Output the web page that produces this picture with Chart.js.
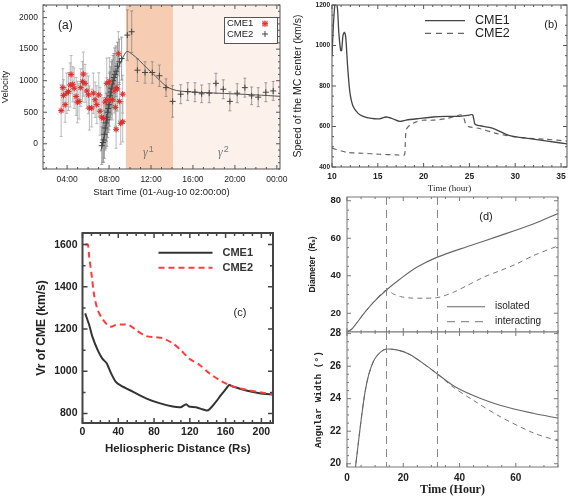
<!DOCTYPE html>
<html>
<head>
<meta charset="utf-8">
<script src="https://cdn.jsdelivr.net/npm/chart.js@4.4.1/dist/chart.umd.min.js"></script>
<style>
  html, body { margin: 0; padding: 0; background: #fff; }
  #wrap { position: relative; width: 568px; height: 497px; overflow: hidden; }
  canvas { position: absolute; }
</style>
</head>
<body>
<div id="wrap">
  <canvas id="chartA" width="290" height="200" style="left:0;top:0"></canvas>
  <canvas id="chartB" width="288" height="200" style="left:280px;top:0"></canvas>
  <canvas id="chartC" width="260" height="250" style="left:30px;top:210px"></canvas>
  <canvas id="chartD1" width="268" height="142" style="left:300px;top:190px"></canvas>
  <canvas id="chartD2" width="268" height="175" style="left:300px;top:322px"></canvas>
</div>
<script>
// ---------- (a) velocity vs start time ----------
const cme1Hour = [3.43,3.59,3.65,3.81,3.97,4.13,4.29,4.38,4.54,4.67,4.86,4.98,5.14,5.30,5.46,5.55,5.71,5.88,6.03,6.12,6.35,6.50,6.67,6.83,7.02,7.14,7.30,7.46,7.62,7.78,7.78,8.03,8.16,8.31,8.48,8.60,8.67,8.67,8.79,8.89,8.98,9.11,9.30,9.30];
const cme1Vel = [526,890,766,620,802,828,932,1099,943,880,750,661,672,890,984,1104,958,838,776,567,567,802,698,620,776,516,422,401,661,698,958,984,693,698,838,578,890,229,870,1427,672,323,349,786];
const cme1Err = [410,300,250,280,320,300,350,300,280,320,300,330,280,300,320,350,300,280,300,350,300,320,280,300,350,380,350,330,300,350,400,380,300,320,350,300,380,300,350,350,300,330,320,300];

const cme2Hour = [7.30,7.40,7.48,7.55,7.62,7.70,7.75,7.80,7.86,7.92,7.98,8.04,8.10,8.16,8.22,8.30,8.38,8.46,8.55,8.66,8.80,8.98,9.20,9.74,10.16,10.70,11.43,12.12,12.80,13.43,14.06,14.83,15.50,16.19,16.83,17.55,18.19,18.89,19.52,20.22,20.95,21.59,22.22,22.95,23.65];
const cme2Vel = [-30,20,60,150,250,330,420,380,500,560,620,700,760,820,880,950,1000,1050,1100,1150,1230,1300,1350,1723,1776,1167,1130,1130,1078,890,672,786,828,817,792,802,958,864,672,802,890,760,739,817,838];
const cme2Err = [300,320,350,380,350,400,380,420,400,380,400,420,380,400,420,380,400,380,420,400,380,360,340,400,330,180,170,170,170,140,250,150,140,150,140,150,160,150,150,150,150,140,150,150,150];

const fitHour = [7.2,7.5,7.8,8.1,8.4,8.7,9.0,9.3,9.7,10.2,10.9,11.6,12.2,12.8,13.5,14.1,14.8,16,18,20,22,24.3];
const fitVel = [-120,60,360,700,950,1120,1250,1360,1464,1420,1320,1200,1110,1010,906,860,835,820,805,790,775,752];

const gammaSpans = [[9.6, 14.1], [14.1, 24.3]];
const hourTicks = [4, 8, 12, 16, 20, 24];
const velTicks = [0, 500, 1000, 1500, 2000];

// ---------- (b) speed of MC center ----------
const bTime1 = [10.0,10.15,10.3,10.45,10.6,10.75,10.95,11.05,11.2,11.35,11.5,11.7,11.95,12.3,12.85,13.4,14.3,15.2,15.9,16.65,17.4,18.1,19.6,21,22.5,23.9,24.8,25.35,25.6,26.1,27.5,29.4,31.6,33.5,35.7];
const bSpeed1 = [950,1100,1195,1210,1180,1060,975,975,1050,1065,1040,900,770,700,665,650,640,638,647,638,625,632,640,647,650,650,655,658,612,604,592,555,540,528,514];
const bTime2 = [10,11.56,13.4,15.2,17,17.9,18.0,18.1,18.5,19.2,19.9,21,22.5,23.6,24.0,24.3,24.65,25,26.1,27.9,29.75,31.6,33.4,35.7];
const bSpeed2 = [493,473,468,463,460,460,520,585,607,623,631,631,639,652,658,652,607,598,590,566,550,541,537,528];
const bTimeTicks = [10, 15, 20, 25, 30, 35];
const bSpeedTicks = [400, 600, 800, 1000, 1200];

// ---------- (c) Vr vs heliospheric distance ----------
const cDist1 = [3,7.5,11,17,22,27,32,37,43,56,71,86,101,110,116,119,127,134,139,142,148,155,161,164,168,183,198,213];
const cVr1 = [1274,1219,1164,1100,1061,1038,990,951,932,904,872,849,833,830,844,833,830,820,814,820,849,888,920,935,928,909,896,890];
const cDist2 = [3,6,7.5,10.5,13,17,22,28,32,37,45,52,60,71,82,90,101,110,119,131,142,153,164,175,190,205,213];
const cVr2 = [1600,1600,1542,1447,1361,1290,1250,1219,1211,1219,1222,1219,1195,1167,1161,1156,1132,1100,1061,1030,990,959,935,920,907,896,891];
const cDistTicks = [0, 40, 80, 120, 160, 200];
const cVrTicks = [800, 1000, 1200, 1400, 1600];

// ---------- (d) diameter and angular width ----------
const dTime = [0.2,1.8,5.9,9.4,14,18.9,24.8,31.9,42.6,54.4,66.2,75.1];
const dIsolated = [10.2,11.7,19.7,25.8,32.4,38.3,44.5,49.8,55.5,61.4,67.6,73.2];
const dTimeInt = [0.2,1.8,5.9,9.4,14,16.5,19,22,27,31.9,34.5,38,42.6,48.5,54.4,60.3,66.2,75.1];
const dInteracting = [10.2,11.7,19.7,25.8,32.4,30.3,28.9,28.2,28.0,28.3,29.3,31.3,34.7,39.2,42.7,46.3,50.7,56.0];

const wTime = [2.8,6.5,9.4,13,17.7,22.5,28.4,31.9,37.8,44.9,54.4,66.2,75.1];
const wIsolated = [19.5,24.5,26.3,27.0,27.0,26.7,26.0,25.55,24.8,24.2,23.6,23.1,22.8];
const wTimeInt = [2.8,6.5,9.4,13,17.7,22.5,28.4,31.9,35,37.8,44.9,54.4,66.2,75.1];
const wInteracting = [19.5,24.5,26.3,27.0,27.0,26.7,26.0,25.55,25.1,24.7,23.9,22.9,21.9,21.4];

const phaseMarks = [14, 32];
const dTimeTicks = [0, 20, 40, 60];
const diamTicks = [20, 40, 60, 80];
const widthTicks = [20, 22, 24, 26, 28];

// ---------- helpers ----------
Chart.defaults.font.family = "'Liberation Sans', Arial, 'DejaVu Sans', sans-serif";
Chart.defaults.animation = false;
Chart.defaults.plugins.legend.display = false;
Chart.defaults.plugins.tooltip.enabled = false;

const pts = (xs, ys) => xs.map((x, i) => ({ x, y: ys[i] }));

function axis(o) {
  return {
    type: 'linear', min: o.min, max: o.max,
    border: { display: false },
    grid: { display: false, drawTicks: false },
    ticks: {
      display: !o.hideTicks, autoSkip: false, maxRotation: 0,
      padding: o.pad || 0, color: o.color || '#222', font: o.font,
      callback: o.fmt || (v => v)
    },
    title: { display: !!o.title, text: o.title, color: o.color || '#222', font: o.titleFont, padding: o.titlePad || 0 },
    afterBuildTicks: s => { s.ticks = o.ticks.map(v => ({ value: v })); },
    afterFit: s => {
      if (o.horizontal) s.height = o.size; else s.width = o.size;
      // keep label overhang from squeezing the plot box
      s.paddingTop = 0; s.paddingBottom = 0; s.paddingLeft = 0; s.paddingRight = 0;
    }
  };
}

// box round the plot with inward ticks on every side
function makeFrame(f) {
  return {
    id: 'frame',
    afterDatasetsDraw(chart) {
      const { ctx, chartArea: a } = chart;
      const marks = (scale, sub) => {
        const vals = scale.ticks.map(t => t.value);
        const out = [];
        if (vals.length < 2) return out;
        const step = (vals[1] - vals[0]) / sub;
        for (let k = -sub; k <= vals.length * sub; k++) {
          const v = vals[0] + k * step;
          if (v < scale.min - 1e-9 || v > scale.max + 1e-9) continue;
          out.push({ p: scale.getPixelForValue(v), major: k % sub === 0 });
        }
        return out;
      };
      ctx.save();
      ctx.strokeStyle = f.color;
      ctx.lineWidth = f.width;
      ctx.strokeRect(a.left, a.top, a.right - a.left, a.bottom - a.top);
      ctx.lineWidth = f.tickWidth || 1;
      ctx.beginPath();
      marks(chart.scales.x, f.subX).forEach(m => {
        const len = m.major ? f.major : f.minor;
        ctx.moveTo(m.p, a.bottom); ctx.lineTo(m.p, a.bottom - len);
        ctx.moveTo(m.p, a.top); ctx.lineTo(m.p, a.top + len);
      });
      marks(chart.scales.y, f.subY).forEach(m => {
        const len = m.major ? f.major : f.minor;
        ctx.moveTo(a.left, m.p); ctx.lineTo(a.left + len, m.p);
        ctx.moveTo(a.right, m.p); ctx.lineTo(a.right - len, m.p);
      });
      ctx.stroke();
      ctx.restore();
    }
  };
}

function makeShade(spans, colors) {
  return {
    id: 'shade',
    beforeDatasetsDraw(chart) {
      const { ctx, chartArea: a, scales: { x } } = chart;
      ctx.save();
      spans.forEach((s, i) => {
        const x1 = Math.max(a.left, x.getPixelForValue(s[0]));
        const x2 = Math.min(a.right, x.getPixelForValue(s[1]));
        ctx.fillStyle = colors[i];
        ctx.fillRect(x1, a.top, x2 - x1, a.bottom - a.top);
      });
      ctx.restore();
    }
  };
}

function makeErrBars(sets) {
  return {
    id: 'errbars',
    beforeDatasetsDraw(chart) {
      const { ctx, chartArea: a, scales: { y } } = chart;
      ctx.save();
      ctx.beginPath();
      ctx.rect(a.left, a.top, a.right - a.left, a.bottom - a.top);
      ctx.clip();
      sets.forEach(s => {
        const meta = chart.getDatasetMeta(s.ds);
        const data = chart.data.datasets[s.ds].data;
        ctx.strokeStyle = s.color;
        ctx.lineWidth = 0.8;
        ctx.beginPath();
        meta.data.forEach((el, i) => {
          const yt = y.getPixelForValue(data[i].y + s.err[i]);
          const yb = y.getPixelForValue(data[i].y - s.err[i]);
          ctx.moveTo(el.x, yt); ctx.lineTo(el.x, yb);
          ctx.moveTo(el.x - 1.5, yt); ctx.lineTo(el.x + 1.5, yt);
          ctx.moveTo(el.x - 1.5, yb); ctx.lineTo(el.x + 1.5, yb);
        });
        ctx.stroke();
      });
      ctx.restore();
    }
  };
}

function makeVLines(values, color) {
  return {
    id: 'vlines',
    afterDatasetsDraw(chart) {
      const { ctx, chartArea: a, scales: { x } } = chart;
      ctx.save();
      ctx.strokeStyle = color;
      ctx.lineWidth = 1;
      ctx.setLineDash([8, 5]);
      values.forEach(v => {
        const px = Math.round(x.getPixelForValue(v)) + 0.5;
        ctx.beginPath(); ctx.moveTo(px, a.top); ctx.lineTo(px, a.bottom); ctx.stroke();
      });
      ctx.restore();
    }
  };
}

function drawMarker(ctx, kind, x, y) {
  ctx.save();
  ctx.setLineDash([]);
  if (kind === 'cme1') {
    ctx.fillStyle = 'rgba(242,150,150,0.8)';
    ctx.fillRect(x - 3, y - 3, 6, 6);
    ctx.strokeStyle = '#d92b2b';
    ctx.lineWidth = 1;
    ctx.beginPath();
    ctx.moveTo(x - 3, y); ctx.lineTo(x + 3, y);
    ctx.moveTo(x, y - 3); ctx.lineTo(x, y + 3);
    ctx.moveTo(x - 2.2, y - 2.2); ctx.lineTo(x + 2.2, y + 2.2);
    ctx.moveTo(x - 2.2, y + 2.2); ctx.lineTo(x + 2.2, y - 2.2);
    ctx.stroke();
  } else {
    ctx.strokeStyle = '#444';
    ctx.lineWidth = 1;
    ctx.beginPath();
    ctx.moveTo(x - 3, y); ctx.lineTo(x + 3, y);
    ctx.moveTo(x, y - 3); ctx.lineTo(x, y + 3);
    ctx.stroke();
  }
  ctx.restore();
}

// legend inside the plot, offsets from the plot corner
function makeKey(k) {
  return {
    id: 'key',
    afterDraw(chart) {
      const { ctx, chartArea: a } = chart;
      ctx.save();
      if (k.box) {
        ctx.strokeStyle = k.box.color;
        ctx.lineWidth = 1;
        ctx.fillStyle = '#fff';
        ctx.fillRect(a.left + k.box.x, a.top + k.box.y, k.box.w, k.box.h);
        ctx.strokeRect(a.left + k.box.x + 0.5, a.top + k.box.y + 0.5, k.box.w, k.box.h);
      }
      k.items.forEach(it => {
        const y = a.top + it.y;
        if (it.marker) {
          drawMarker(ctx, it.marker, a.left + it.mx, y);
        } else {
          const ds = chart.data.datasets[it.ds];
          ctx.beginPath();
          ctx.setLineDash(it.dash || ds.borderDash || []);
          ctx.strokeStyle = ds.borderColor;
          ctx.lineWidth = ds.borderWidth;
          ctx.moveTo(a.left + it.x1, y); ctx.lineTo(a.left + it.x2, y);
          ctx.stroke();
          ctx.setLineDash([]);
        }
        ctx.font = k.css;
        ctx.fillStyle = k.color;
        ctx.textBaseline = 'middle';
        ctx.textAlign = 'left';
        ctx.fillText(it.text, a.left + it.tx, y);
      });
      ctx.restore();
    }
  };
}

function makeNotes(items) {
  return {
    id: 'notes',
    afterDraw(chart) {
      const { ctx, chartArea: a } = chart;
      ctx.save();
      ctx.textBaseline = 'middle';
      items.forEach(n => {
        ctx.font = n.css;
        ctx.fillStyle = n.color;
        ctx.textAlign = n.align || 'left';
        ctx.fillText(n.t, a.left + n.x, a.top + n.y);
        if (n.sup) {
          const w = ctx.measureText(n.t).width;
          ctx.font = n.supCss;
          ctx.textAlign = 'left';
          ctx.fillText(n.sup, a.left + n.x + w + 1, a.top + n.y - 3);
        }
      });
      ctx.restore();
    }
  };
}

const baseOpts = { responsive: false, devicePixelRatio: 1, animation: false };

// ---------- chart (a) ----------
new Chart(document.getElementById('chartA'), {
  type: 'scatter',
  data: {
    datasets: [
      { label: 'CME1', data: pts(cme1Hour, cme1Vel), pointStyle: 'star', pointRadius: 3, borderColor: '#d92b2b', borderWidth: 1, backgroundColor: '#d92b2b' },
      { label: 'CME1 box', data: pts(cme1Hour, cme1Vel), pointStyle: 'rect', pointRadius: 3, borderWidth: 0, backgroundColor: 'rgba(242,150,150,0.8)' },
      { label: 'CME2', data: pts(cme2Hour, cme2Vel), pointStyle: 'cross', pointRadius: 3, borderColor: '#444', borderWidth: 1 },
      { label: 'fit', data: pts(fitHour, fitVel), showLine: true, pointRadius: 0, borderColor: '#555', borderWidth: 1, tension: 0.3 }
    ]
  },
  options: {
    ...baseOpts,
    layout: { padding: { top: 2, right: 10, left: 0, bottom: 0 } },
    scales: {
      x: axis({ min: 1.7, max: 24.3, ticks: hourTicks, horizontal: true, size: 31, pad: 6,
        font: { size: 8.5 }, fmt: v => String(v % 24).padStart(2, '0') + ':00',
        title: 'Start Time (01-Aug-10 02:00:00)', titleFont: { size: 9.5 }, titlePad: { top: 0, bottom: 2 } }),
      y: axis({ min: -400, max: 2200, ticks: velTicks, size: 43, pad: 5, font: { size: 8.5 },
        title: 'Velocity', titleFont: { size: 9.5 }, titlePad: { top: 0, bottom: 0 } })
    }
  },
  plugins: [
    makeShade(gammaSpans, ['#f6cdb3', '#fdf1ec']),
    makeErrBars([{ ds: 1, err: cme1Err, color: '#aaa' }, { ds: 2, err: cme2Err, color: '#888' }]),
    makeFrame({ color: '#555', width: 1, major: 4, minor: 2, subX: 4, subY: 5 }),
    makeNotes([
      { t: '(a)', x: 15, y: 21, css: '12px "Liberation Sans", Arial', color: '#222' },
      { t: 'γ', x: 100, y: 148, css: 'italic 12px "Liberation Serif", serif', color: '#777', sup: '1', supCss: '9px "Liberation Sans", Arial' },
      { t: 'γ', x: 175, y: 148, css: 'italic 12px "Liberation Serif", serif', color: '#777', sup: '2', supCss: '9px "Liberation Sans", Arial' }
    ]),
    makeKey({ css: '9.5px "Liberation Sans", Arial', color: '#222', box: { x: 181, y: 12, w: 53, h: 26, color: '#555' },
      items: [
        { text: 'CME1', y: 18.7, tx: 184, marker: 'cme1', mx: 222 },
        { text: 'CME2', y: 29, tx: 184, marker: 'cme2', mx: 222 }
      ] })
  ]
});

// ---------- chart (b) ----------
new Chart(document.getElementById('chartB'), {
  type: 'scatter',
  data: {
    datasets: [
      { label: 'CME1', data: pts(bTime1, bSpeed1), showLine: true, pointRadius: 0, borderColor: '#444', borderWidth: 1.3, tension: 0.25 },
      { label: 'CME2', data: pts(bTime2, bSpeed2), showLine: true, pointRadius: 0, borderColor: '#666', borderWidth: 1.2, borderDash: [5, 4], tension: 0.2 }
    ]
  },
  options: {
    ...baseOpts,
    layout: { padding: { top: 5, right: 1, left: 0, bottom: 0 } },
    scales: {
      x: axis({ min: 10, max: 35.65, ticks: bTimeTicks, horizontal: true, size: 33, pad: 5,
        font: { size: 8.5, weight: 'bold' }, title: 'Time (hour)',
        titleFont: { size: 9, family: "'Liberation Serif', serif" }, titlePad: { top: 0, bottom: 6 } }),
      y: axis({ min: 400, max: 1200, ticks: bSpeedTicks, size: 52, pad: 2, font: { size: 6.5, weight: 'bold' },
        title: 'Speed of the MC center (km/s)', titleFont: { size: 10.5 }, titlePad: { top: 12, bottom: 0 } })
    }
  },
  plugins: [
    makeFrame({ color: '#555', width: 1, major: 4, minor: 2, subX: 5, subY: 4 }),
    makeNotes([{ t: '(b)', x: 219, y: 20, css: '11px "Liberation Sans", Arial', color: '#222', align: 'center' }]),
    makeKey({ css: '12.5px "Liberation Sans", Arial', color: '#222',
      items: [
        { text: 'CME1', ds: 0, y: 15.7, x1: 93, x2: 133, tx: 143 },
        { text: 'CME2', ds: 1, y: 28.3, x1: 93, x2: 133, tx: 143, dash: [6, 5] }
      ] })
  ]
});

// ---------- chart (c) ----------
new Chart(document.getElementById('chartC'), {
  type: 'scatter',
  data: {
    datasets: [
      { label: 'CME2', data: pts(cDist2, cVr2), showLine: true, pointRadius: 0, borderColor: '#ff3b3b', borderWidth: 2, borderDash: [6, 4], tension: 0.3 },
      { label: 'CME1', data: pts(cDist1, cVr1), showLine: true, pointRadius: 0, borderColor: '#333', borderWidth: 2, tension: 0.2 }
    ]
  },
  options: {
    ...baseOpts,
    layout: { padding: { top: 23, right: 17, left: 0, bottom: 0 } },
    scales: {
      x: axis({ min: 0, max: 213, ticks: cDistTicks, horizontal: true, size: 37, pad: 3,
        font: { size: 10.5, weight: 'bold' }, title: 'Heliospheric Distance (Rs)',
        titleFont: { size: 11.5, weight: 'bold' }, titlePad: { top: 0, bottom: 4 } }),
      y: axis({ min: 755, max: 1655, ticks: cVrTicks, size: 52.5, pad: 5, font: { size: 10.5, weight: 'bold' },
        title: 'Vr of CME (km/s)', titleFont: { size: 12, weight: 'bold' }, titlePad: { top: 4, bottom: 0 } })
    }
  },
  plugins: [
    makeFrame({ color: '#444', width: 2, tickWidth: 1.5, major: 5, minor: 3, subX: 4, subY: 2 }),
    makeNotes([{ t: '(c)', x: 157.5, y: 80, css: '11px "Liberation Sans", Arial', color: '#222', align: 'center' }]),
    makeKey({ css: 'bold 11px "Liberation Sans", Arial', color: '#333',
      items: [
        { text: 'CME1', ds: 1, y: 19.7, x1: 76, x2: 130, tx: 140 },
        { text: 'CME2', ds: 0, y: 34.7, x1: 76, x2: 130, tx: 140 }
      ] })
  ]
});

// ---------- chart (d) upper: diameter ----------
new Chart(document.getElementById('chartD1'), {
  type: 'scatter',
  data: {
    datasets: [
      { label: 'isolated', data: pts(dTime, dIsolated), showLine: true, pointRadius: 0, borderColor: '#666', borderWidth: 1.1, tension: 0.3 },
      { label: 'interacting', data: pts(dTimeInt, dInteracting), showLine: true, pointRadius: 0, borderColor: '#777', borderWidth: 1, borderDash: [5, 4], tension: 0.3 }
    ]
  },
  options: {
    ...baseOpts,
    layout: { padding: { top: 7, right: 10, left: 0, bottom: 0 } },
    scales: {
      x: axis({ min: 0, max: 75, ticks: dTimeTicks, horizontal: true, size: 0, hideTicks: true }),
      y: axis({ min: 10, max: 82, ticks: diamTicks, size: 47, pad: 6, font: { size: 9.5, weight: 'bold' },
        title: 'Diameter  (R\u209B)', titleFont: { size: 8.5, weight: 'bold' }, titlePad: { top: 8, bottom: 0 } })
    }
  },
  plugins: [
    makeVLines(phaseMarks, '#888'),
    makeFrame({ color: '#777', width: 1, major: 4, minor: 2, subX: 4, subY: 4 }),
    makeNotes([{ t: '(d)', x: 139, y: 20, css: '11px "Liberation Sans", Arial', color: '#222', align: 'center' }]),
    makeKey({ css: '10px "Liberation Sans", Arial', color: '#222',
      items: [
        { text: 'isolated', ds: 0, y: 109.7, x1: 100, x2: 138, tx: 148 },
        { text: 'interacting', ds: 1, y: 124.7, x1: 100, x2: 138, tx: 148, dash: [8, 6] }
      ] })
  ]
});

// ---------- chart (d) lower: angular width ----------
new Chart(document.getElementById('chartD2'), {
  type: 'scatter',
  data: {
    datasets: [
      { label: 'isolated', data: pts(wTime, wIsolated), showLine: true, pointRadius: 0, borderColor: '#666', borderWidth: 1.1, tension: 0.3 },
      { label: 'interacting', data: pts(wTimeInt, wInteracting), showLine: true, pointRadius: 0, borderColor: '#777', borderWidth: 1, borderDash: [5, 4], tension: 0.3 }
    ]
  },
  options: {
    ...baseOpts,
    layout: { padding: { top: 10, right: 10, left: 0, bottom: 0 } },
    scales: {
      x: axis({ min: 0, max: 75, ticks: dTimeTicks, horizontal: true, size: 30, pad: 5,
        font: { size: 10, weight: 'bold' }, title: 'Time (Hour)',
        titleFont: { size: 12, weight: 'bold', family: "'Liberation Serif', serif" }, titlePad: { top: 0, bottom: 0 } }),
      y: axis({ min: 19.8, max: 28.1, ticks: widthTicks, size: 47, pad: 6, font: { size: 10, weight: 'bold' },
        title: 'Angular Width (\u00B0)', titleFont: { size: 9.5, weight: 'bold', family: "'Liberation Mono', monospace" }, titlePad: { top: 13, bottom: 0 } })
    }
  },
  plugins: [
    makeVLines(phaseMarks, '#888'),
    makeFrame({ color: '#777', width: 1, major: 4, minor: 2, subX: 4, subY: 4 })
  ]
});
</script>
</body>
</html>
